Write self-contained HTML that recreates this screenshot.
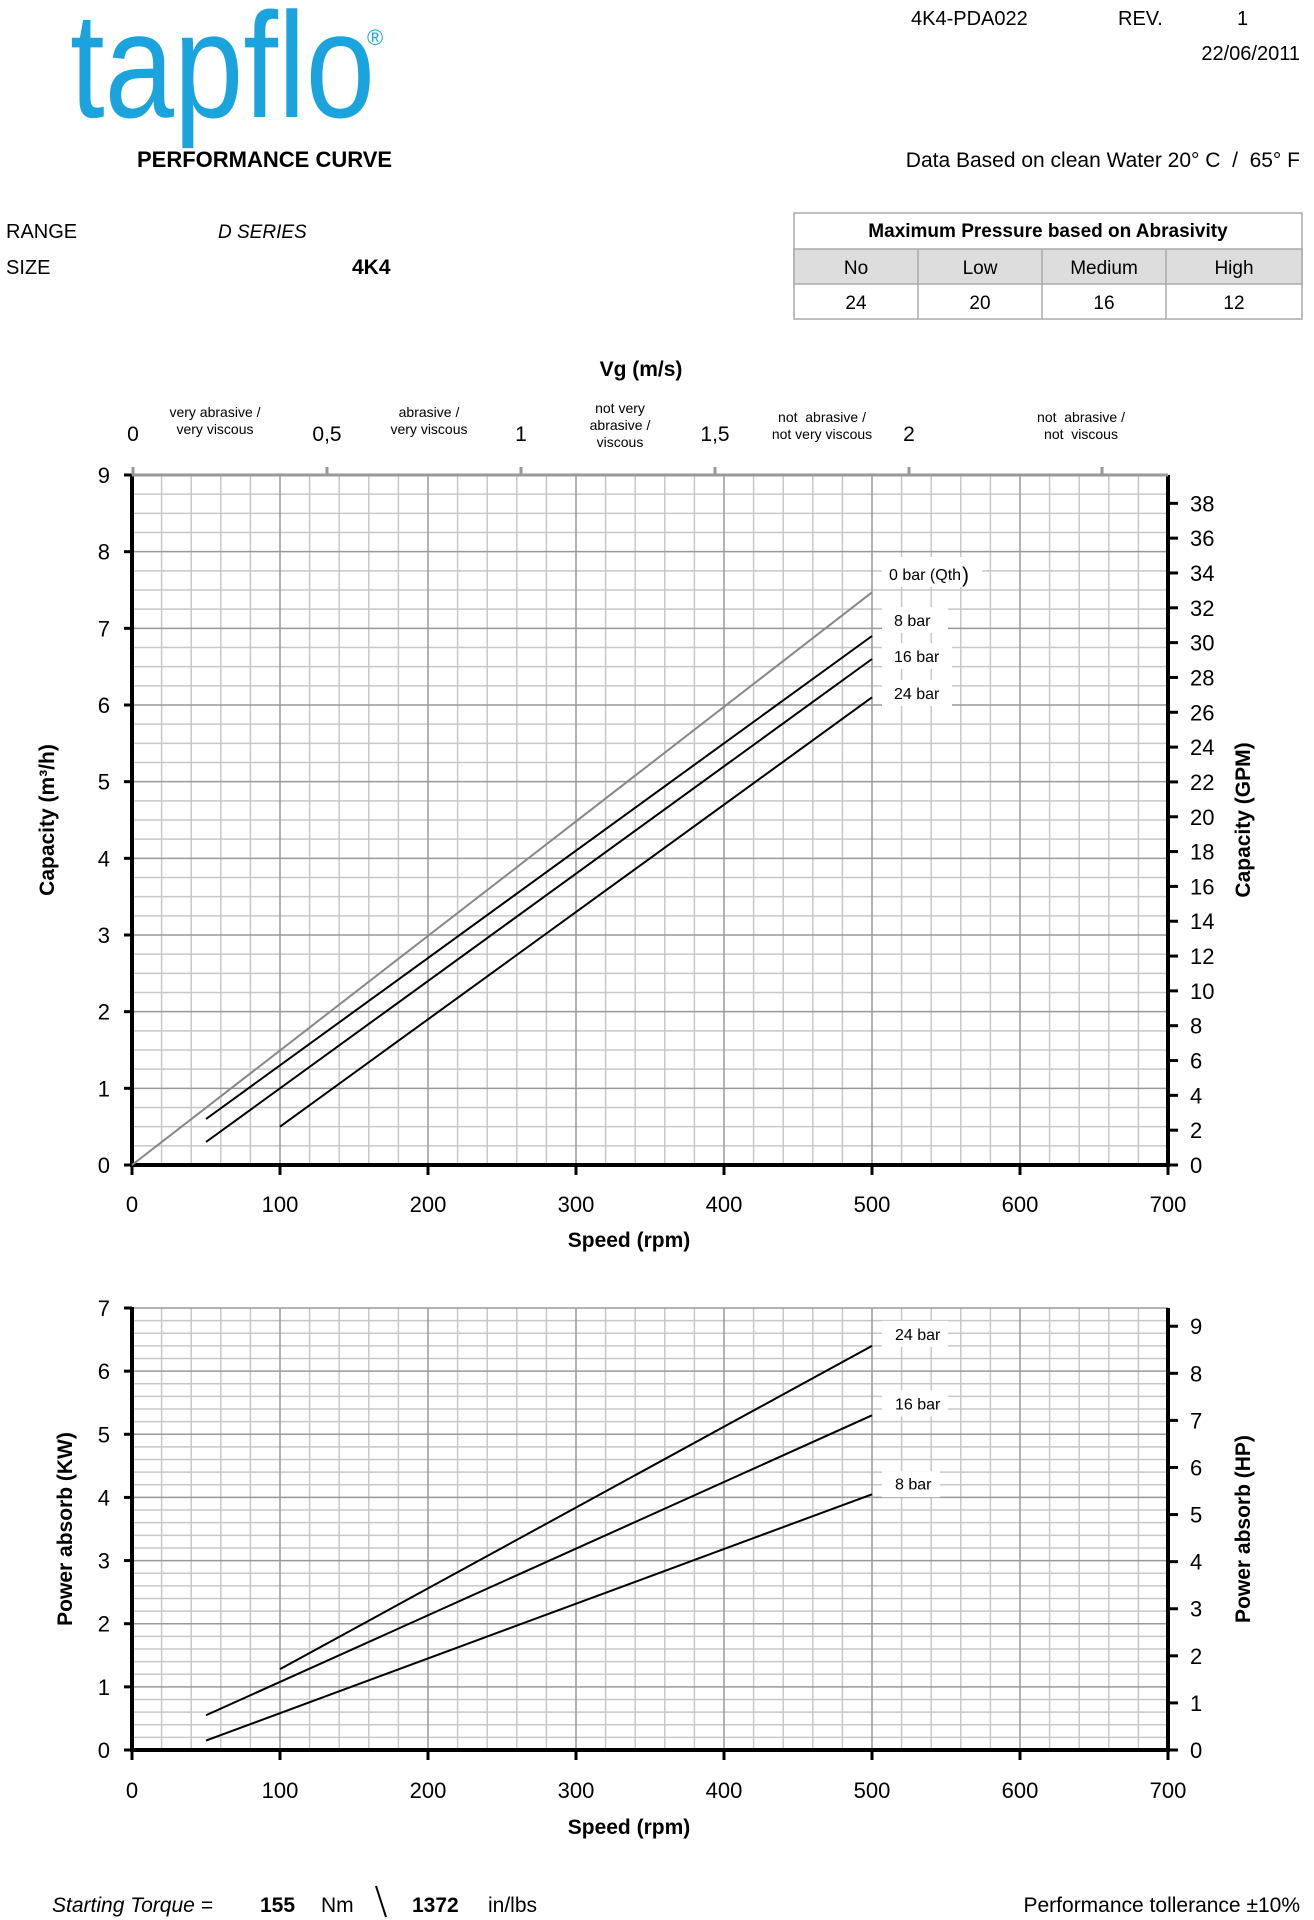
<!DOCTYPE html>
<html><head><meta charset="utf-8">
<style>
html,body{margin:0;padding:0;background:#fff;}
svg{display:block;}
text{font-family:"Liberation Sans","DejaVu Sans",sans-serif;fill:#000;white-space:pre;}
</style></head>
<body>
<svg id="s" width="1314" height="1920" viewBox="0 0 1314 1920" xmlns="http://www.w3.org/2000/svg" xml:space="preserve">
<text x="70" y="117" font-size="150" style="fill:#1aa3dc" textLength="305" lengthAdjust="spacingAndGlyphs">tapflo</text>
<text x="367" y="45" font-size="22" style="fill:#1aa3dc">®</text>
<text x="137" y="167" font-size="22" font-weight="bold">PERFORMANCE CURVE</text>
<text x="911" y="25" font-size="20">4K4-PDA022</text>
<text x="1118" y="25" font-size="20">REV.</text>
<text x="1237" y="25" font-size="20">1</text>
<text x="1300" y="60" font-size="20" text-anchor="end">22/06/2011</text>
<text x="1300" y="167" font-size="21" text-anchor="end">Data Based on clean Water 20° C  /  65° F</text>
<text x="6" y="238" font-size="20">RANGE</text>
<text x="218" y="238" font-size="19" font-style="italic">D SERIES</text>
<text x="6" y="274" font-size="20">SIZE</text>
<text x="352" y="274" font-size="21" font-weight="bold">4K4</text>
<rect x="794" y="213" width="508" height="106" fill="#fff" stroke="#aaa" stroke-width="1.5"/>
<rect x="794" y="249" width="508" height="35" fill="#ddd" stroke="#aaa" stroke-width="1.5"/>
<line x1="918" y1="249" x2="918" y2="319" stroke="#aaa" stroke-width="1.5"/>
<line x1="1042" y1="249" x2="1042" y2="319" stroke="#aaa" stroke-width="1.5"/>
<line x1="1166" y1="249" x2="1166" y2="319" stroke="#aaa" stroke-width="1.5"/>
<text x="1048" y="237" font-size="19" font-weight="bold" text-anchor="middle">Maximum Pressure based on Abrasivity</text>
<text x="856" y="274" font-size="19" text-anchor="middle">No</text>
<text x="980" y="274" font-size="19" text-anchor="middle">Low</text>
<text x="1104" y="274" font-size="19" text-anchor="middle">Medium</text>
<text x="1234" y="274" font-size="19" text-anchor="middle">High</text>
<text x="856" y="309" font-size="19" text-anchor="middle">24</text>
<text x="980" y="309" font-size="19" text-anchor="middle">20</text>
<text x="1104" y="309" font-size="19" text-anchor="middle">16</text>
<text x="1234" y="309" font-size="19" text-anchor="middle">12</text>
<text x="641" y="376" font-size="21" font-weight="bold" text-anchor="middle">Vg (m/s)</text>
<g id="g"></g>
<text x="52" y="1912" font-size="21" font-style="italic">Starting Torque =</text>
<text x="260" y="1912" font-size="21" font-weight="bold">155</text>
<text x="321" y="1912" font-size="21">Nm</text>
<line x1="376" y1="1886" x2="386" y2="1917" stroke="#000" stroke-width="2"/>
<text x="412" y="1912" font-size="21" font-weight="bold">1372</text>
<text x="488" y="1912" font-size="21">in/lbs</text>
<text x="1300" y="1912" font-size="21" text-anchor="end">Performance tollerance ±10%</text>
</svg>
<script>
var g=document.getElementById('g'),NS='http://www.w3.org/2000/svg';
function el(t,a,txt){var e=document.createElementNS(NS,t);for(var k in a)e.setAttribute(k,a[k]);if(txt!=null)e.textContent=txt;g.appendChild(e);return e;}
function L(x1,y1,x2,y2,c,w){el('line',{x1:x1,y1:y1,x2:x2,y2:y2,stroke:c,'stroke-width':w});}
function T(x,y,s,fs,anc,extra){var a={x:x,y:y,'font-size':fs,'text-anchor':anc||'start'};for(var k in extra)a[k]=extra[k];return el('text',a,s);}
var X0=132,X1=1168,px=(X1-X0)/700;
function X(v){return X0+v*px;}
function chart(top,bot,ymax,ydiv,rightScale,rmax,rstep,lines,ltitle,rtitle,ltx,rtx,xlab,stit){
 var py=(bot-top)/ymax;function Y(v){return bot-v*py;}
 for(var v=0;v<=700;v+=20){if(v%100)L(X(v),top,X(v),bot,'#c8c8c8',1.5);}
 for(var i=0;i<=ymax*ydiv;i++){if(i%ydiv)L(X0,Y(i/ydiv),X1,Y(i/ydiv),'#c8c8c8',1.5);}
 for(var v=100;v<=700;v+=100)L(X(v),top,X(v),bot,'#999',1.5);
 for(var i=1;i<=ymax;i++)L(X0,Y(i),X1,Y(i),'#999',1.5);
 L(X0,top-1,X0,bot+1,'#000',4);L(X0-2,bot,X1+2,bot,'#000',4);L(X1,top,X1,bot+1,'#000',4);
 for(var i=0;i<=ymax;i++){L(X0-8,Y(i),X0,Y(i),'#000',3);T(X0-22,Y(i)+8,i,22,'end');}
 for(var v=0;v<=700;v+=100){L(X(v),bot,X(v),bot+10,'#000',3);T(X(v),bot+xlab,v,22,'middle');}
 for(var r=0;r<=rmax;r+=rstep){var yy=bot-r*rightScale*py;L(X1,yy,X1+10,yy,'#000',3);T(X1+22,yy+8,r,22,'start');}
 lines.forEach(function(l){L(X(l[0]),Y(l[1]),X(l[2]),Y(l[3]),l[4],2);});
 T(629,bot+stit,'Speed (rpm)',21,'middle',{'font-weight':'bold'});
 T(0,0,ltitle,21,'middle',{'font-weight':'bold',transform:'translate('+ltx+','+((top+bot)/2)+') rotate(-90)'});
 T(0,0,rtitle,21,'middle',{'font-weight':'bold',transform:'translate('+rtx+','+((top+bot)/2)+') rotate(-90)'});
}
chart(475,1165,9,4,1/4.403,38,2,
 [[0,0,500,7.47,'#888'],[50,0.6,500,6.9,'#000'],[50,0.3,500,6.6,'#000'],[100,0.5,500,6.1,'#000']],
 'Capacity (m³/h)','Capacity (GPM)',54,1250,47,82);
(function(){
 [[882,557,100,30],[882,607,66,26],[882,643,70,26],[882,680,70,26]].forEach(function(r){el('rect',{x:r[0],y:r[1],width:r[2],height:r[3],fill:'#fff'});});
 T(889,580,'0 bar (Qth',16);T(962,582,')',21);
 T(894,626,'8 bar',16);T(894,662,'16 bar',16);T(894,699,'24 bar',16);
 L(X0,475,X1,475,'#999',3);
 var vg=[[133,'0'],[327,'0,5'],[521,'1'],[715,'1,5'],[909,'2'],[1102,'']];
 vg.forEach(function(v){L(v[0],467,v[0],475,'#999',3);if(v[1])T(v[0],441,v[1],21,'middle');});
 var z=[[215,['very abrasive /','very viscous']],[429,['abrasive /','very viscous']],[620,['not very','abrasive /','viscous']],[822,['not  abrasive /','not very viscous']],[1081,['not  abrasive /','not  viscous']]];
 z.forEach(function(q){var n=q[1].length,y0=n==3?413:(q[0]>800?422:417);q[1].forEach(function(s,i){T(q[0],y0+i*17,s,14,'middle');});});
})();
chart(1308,1750,7,5,0.7457,9,1,
 [[100,1.28,500,6.4,'#000'],[50,0.55,500,5.3,'#000'],[50,0.15,500,4.05,'#000']],
 'Power absorb (KW)','Power absorb (HP)',72,1250,48,84);
(function(){
 var py=(1750-1308)/7;function Y(v){return 1750-v*py;}
 [[882,Y(6.4)-25,66,26],[882,Y(5.3)-25,66,26],[882,Y(4.05)-23,58,26]].forEach(function(r){el('rect',{x:r[0],y:r[1],width:r[2],height:r[3],fill:'#fff'});});
 T(895,Y(6.4)-6,'24 bar',16);T(895,Y(5.3)-6,'16 bar',16);T(895,Y(4.05)-5,'8 bar',16);
})();
</script>
</body></html>
